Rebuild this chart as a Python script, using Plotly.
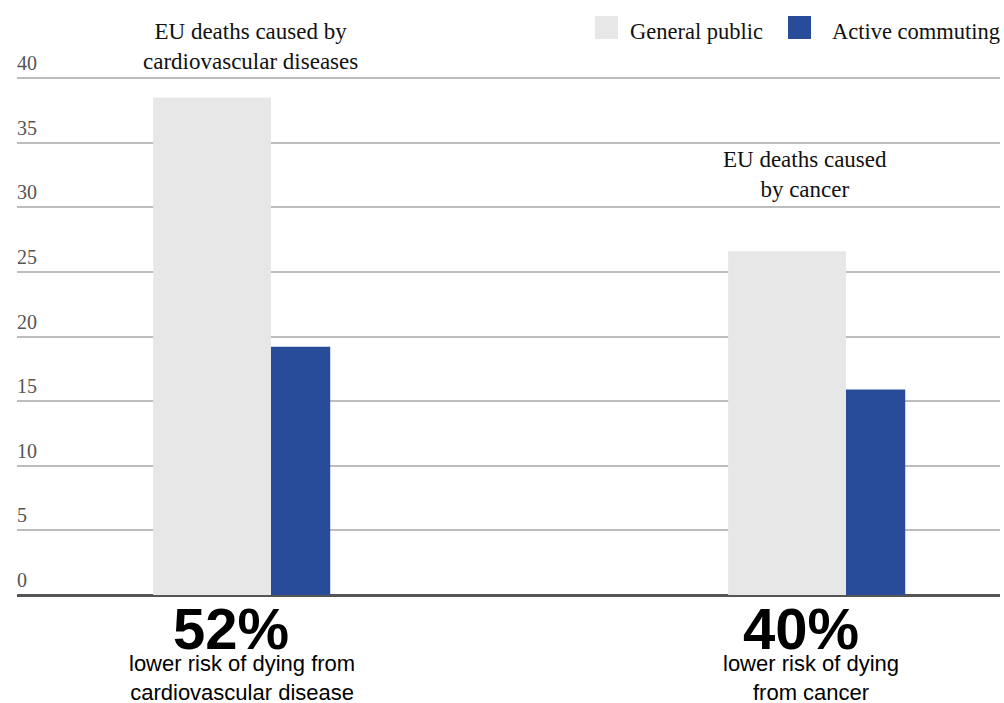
import plotly.graph_objects as go

categories = ["Cardiovascular diseases", "Cancer"]
general_public = [38.5, 26.6]
active_commuting = [19.2, 15.9]
series_names = ["General public", "Active commuting"]
top_labels = ["EU deaths caused by<br>cardiovascular diseases", "EU deaths caused<br>by cancer"]
pct_labels = ["52%", "40%"]
risk_labels = ["lower risk of dying from<br>cardiovascular disease", "lower risk of dying<br>from cancer"]
y_ticks = [0, 5, 10, 15, 20, 25, 30, 35, 40]

GRAY = "#e6e7e6"
BLUE = "#294c9a"
GRID = "#bdbdbd"
SERIF = "Liberation Serif, DejaVu Serif, serif"
SANS = "Liberation Sans, Arial, sans-serif"

W, H = 1004, 703
L, R, T, B = 17, 4, 45, 108
PW, PH = W - L - R, H - T - B
PX_PER_UNIT = 12.925
Y_TOP = PH / PX_PER_UNIT

def px_x(X):
    return (X - L) / PW

def px_y(Y):
    return (H - B - Y) / PH

xpos = list(range(len(categories)))

fig = go.Figure()
fig.add_trace(go.Bar(x=xpos, y=general_public, name=series_names[0],
                     width=0.205, offset=-0.205, marker_color=GRAY,
                     marker_line_width=0, showlegend=False))
fig.add_trace(go.Bar(x=xpos, y=active_commuting, name=series_names[1],
                     width=0.103, offset=0, marker_color=BLUE,
                     marker_line_width=0, showlegend=False))

annotations = []
top_pos = [(-0.0365, px_y(46)), (0.929 - 1, px_y(175))]
for i, (dx, yy) in enumerate(top_pos):
    annotations.append(dict(x=xpos[i] + dx, xref="x", y=yy, yref="paper",
                            text=top_labels[i], showarrow=False,
                            xanchor="center", yanchor="middle",
                            font=dict(family=SERIF, size=23, color="#111")))
pct_dx = [-0.0696, 0.9217 - 1]
risk_dx = [-0.0504, 0.939 - 1]
for i in range(len(categories)):
    annotations.append(dict(x=xpos[i] + pct_dx[i], xref="x", y=px_y(628), yref="paper",
                            text="<b>" + pct_labels[i] + "</b>", showarrow=False,
                            xanchor="center", yanchor="middle",
                            font=dict(family=SANS, size=58, color="#000")))
    annotations.append(dict(x=xpos[i] + risk_dx[i], xref="x", y=px_y(678), yref="paper",
                            text=risk_labels[i], showarrow=False,
                            xanchor="center", yanchor="middle",
                            font=dict(family=SANS, size=22, color="#000")))

shapes = []
# explicit top gridline
shapes.append(dict(type="line", xref="paper", yref="y", x0=0, x1=1,
                   y0=y_ticks[-1], y1=y_ticks[-1], layer="above",
                   line=dict(color=GRID, width=2)))
legend_items = [(595, 628, GRAY, series_names[0]), (788, 830, BLUE, series_names[1])]
for sx, tx, col, name in legend_items:
    shapes.append(dict(type="rect", xref="paper", yref="paper",
                       x0=px_x(sx), x1=px_x(sx + 23), y0=px_y(39), y1=px_y(16),
                       fillcolor=col, line_width=0))
    annotations.append(dict(x=px_x(tx), xref="paper", y=px_y(32), yref="paper",
                            text=name, showarrow=False, xanchor="left", yanchor="middle",
                            font=dict(family=SERIF, size=22.5, color="#111")))

fig.update_layout(
    width=W, height=H,
    margin=dict(l=L, r=R, t=T, b=B),
    paper_bgcolor="white", plot_bgcolor="white",
    barmode="overlay",
    showlegend=False,
    annotations=annotations,
    shapes=shapes,
    xaxis=dict(range=[(L - 271) / 575, (W - R - 271) / 575], showticklabels=False,
               showgrid=False, zeroline=False, showline=False, fixedrange=True),
    yaxis=dict(range=[0, Y_TOP], tickvals=y_ticks, ticktext=[str(v) for v in y_ticks],
               ticklabelposition="inside", ticklabelshift=-15, ticklabelstandoff=-3,
               showgrid=True, gridcolor=GRID, gridwidth=1.6,
               zeroline=True, zerolinecolor="#555", zerolinewidth=2.5,
               showline=False, ticks="",
               tickfont=dict(family=SERIF, size=20, color="#555"), fixedrange=True),
)

fig.write_html("out.html")
